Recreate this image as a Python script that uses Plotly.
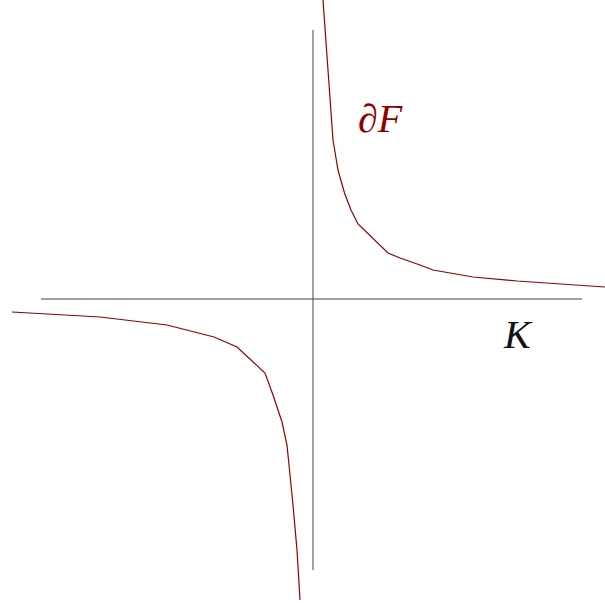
import plotly.graph_objects as go

# ── Curve samples (data units, origin at axis crossing) ──────────
RIGHT_X = [0.20, 0.25, 0.30, 0.34, 0.40, 0.50, 0.63, 0.76, 0.90, 1.50, 1.74, 2.14, 2.40, 3.20, 4.08, 5.84]
RIGHT_Y = [5.98, 5.32, 4.58, 4.08, 3.18, 2.58, 2.12, 1.78, 1.50, 0.92, 0.82, 0.68, 0.58, 0.44, 0.36, 0.24]

LEFT_X = [-6.02, -4.26, -2.92, -1.98, -1.52, -0.96, -0.80, -0.62, -0.52, -0.46, -0.40, -0.32, -0.26]
LEFT_Y = [-0.26, -0.36, -0.52, -0.76, -0.96, -1.48, -1.92, -2.46, -2.92, -3.46, -4.12, -5.02, -6.02]

AXIS_X = [-5.44, 5.38]
AXIS_Y = [-5.42, 5.38]

CURVE = "#900000"
AXIS_COL = "#444444"
SERIF = "Liberation Serif, DejaVu Serif, serif"

fig = go.Figure()
fig.add_trace(go.Scatter(x=AXIS_X, y=[0, 0], mode="lines",
                         line=dict(color=AXIS_COL, width=1), hoverinfo="skip"))
fig.add_trace(go.Scatter(x=[0, 0], y=AXIS_Y, mode="lines",
                         line=dict(color=AXIS_COL, width=1), hoverinfo="skip"))
fig.add_trace(go.Scatter(x=RIGHT_X, y=RIGHT_Y, mode="lines",
                         line=dict(color=CURVE, width=1.2)))
fig.add_trace(go.Scatter(x=LEFT_X, y=LEFT_Y, mode="lines",
                         line=dict(color=CURVE, width=1.2)))

fig.add_annotation(x=1.34, y=3.62, text="<i>∂F</i>", showarrow=False,
                   font=dict(family=SERIF, size=40, color=CURVE))
fig.add_annotation(x=4.1, y=-0.7, text="<i>K</i>", showarrow=False,
                   font=dict(family=SERIF, size=40, color="#111111"))

fig.update_layout(
    width=605, height=604,
    margin=dict(l=0, r=0, t=0, b=0),
    paper_bgcolor="white", plot_bgcolor="white",
    showlegend=False,
    xaxis=dict(range=[-6.26, 5.84], visible=False),
    yaxis=dict(range=[-6.1, 5.98], visible=False),
)
# drop the page's default body margin so the figure sits at 0,0
fig.write_html("out.html", config={"displayModeBar": False},
               post_script="document.body.style.margin='0';")
